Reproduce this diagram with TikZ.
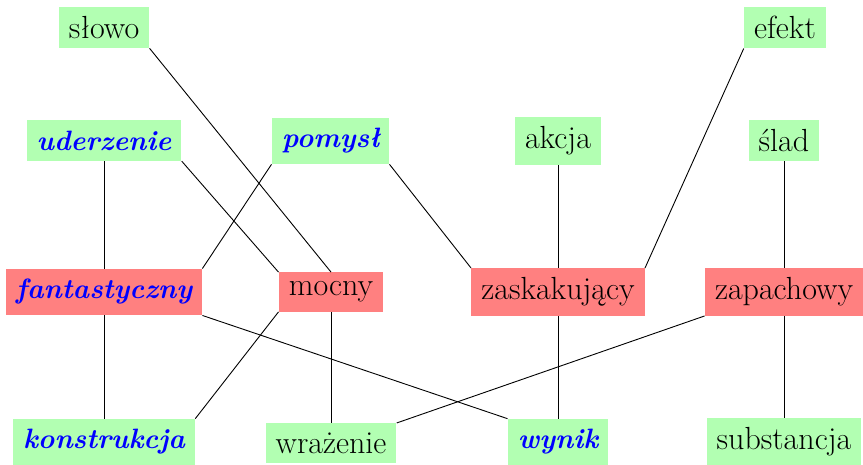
\documentclass[tikz,border=0pt]{standalone}
\usepackage{fontspec}
\begin{document}
\begin{tikzpicture}[x=0.5pt,y=-0.5pt,
  every node/.style={inner xsep=5pt,inner ysep=4.6pt,font=\fontsize{16}{19}\selectfont},
  gbox/.style={fill=green!30},
  rbox/.style={fill=red!50},
  hl/.style={text=blue,inner ysep=5.2pt,font=\fontsize{14}{17}\selectfont\bfseries\itshape},
  link/.style={draw=black,line width=0.45pt}]
\useasboundingbox (0,0) rectangle (863,465);
\node[gbox] (slowo) at (104,27.5) {słowo};
\node[gbox] (efekt) at (785,27.5) {efekt};
\node[gbox,hl] (uderzenie) at (104,140.5) {uderzenie};
\node[gbox,hl] (pomysl) at (330.5,141) {pomysł};
\node[gbox] (akcja) at (558,141) {akcja};
\node[gbox] (slad) at (784,140.5) {ślad};
\node[rbox,hl] (fant) at (104,292) {fantastyczny};
\node[rbox] (mocny) at (331,292) {mocny};
\node[rbox] (zask) at (558,292) {zaskakujący};
\node[rbox] (zap) at (784,292) {zapachowy};
\node[gbox,hl] (konst) at (104,442) {konstrukcja};
\node[gbox] (wraz) at (331,443) {wrażenie};
\node[gbox,hl] (wynik) at (558,442) {wynik};
\node[gbox] (subst) at (784,442) {substancja};
\draw[link] (slowo.south east) -- (mocny.north);
\draw[link] (uderzenie.south) -- (fant.north);
\draw[link] (uderzenie.south east) -- (mocny.north west);
\draw[link] (pomysl.south west) -- (fant.north east);
\draw[link] (pomysl.south east) -- (zask.north west);
\draw[link] (akcja.south) -- (zask.north);
\draw[link] (efekt.south west) -- (zask.north east);
\draw[link] (slad.south) -- (zap.north);
\draw[link] (fant.south) -- (konst.north);
\draw[link] (fant.south east) -- (wynik.north west);
\draw[link] (mocny.south west) -- (konst.north east);
\draw[link] (mocny.south) -- (wraz.north);
\draw[link] (zask.south) -- (wynik.north);
\draw[link] (zap.south west) -- (wraz.north east);
\draw[link] (zap.south) -- (subst.north);
\end{tikzpicture}
\end{document}
